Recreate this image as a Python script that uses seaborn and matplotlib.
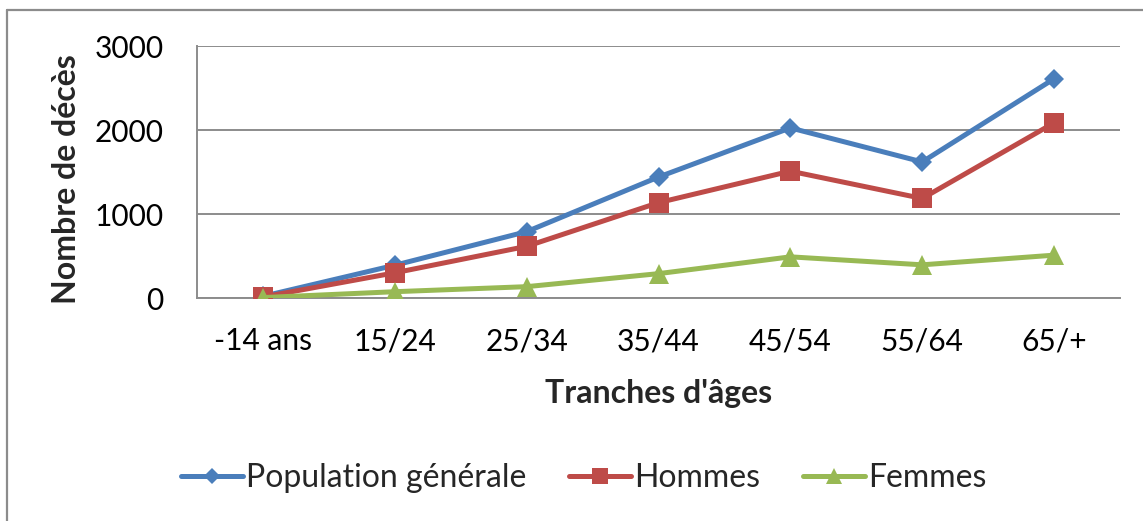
import pandas as pd
import seaborn as sns
import matplotlib.pyplot as plt
from matplotlib.lines import Line2D

# data
tranches = ['-14 ans', '15/24', '25/34', '35/44', '45/54', '55/64', '65/+']
population = [20, 390, 790, 1440, 2025, 1620, 2610]
hommes = [12, 300, 615, 1135, 1510, 1185, 2085]
femmes = [5, 75, 135, 290, 490, 395, 510]

series = ['Population générale', 'Hommes', 'Femmes']
colors = ['#4A7EBB', '#BE4B48', '#98B954']
markers = ['D', 's', '^']
msizes = [10, 14, 14]

df = pd.DataFrame({'tranche': tranches,
                   'Population générale': population,
                   'Hommes': hommes,
                   'Femmes': femmes})
long_df = df.melt(id_vars='tranche', var_name='serie', value_name='deces')

sns.set_style('white')
plt.rcParams['font.family'] = ['Lato', 'DejaVu Sans']

fig = plt.figure(figsize=(11.43, 5.21), dpi=100)
ax = fig.add_axes([197 / 1143, 1 - 298 / 521, 923 / 1143, 252 / 521])

for name, col, mk, ms in zip(series, colors, markers, msizes):
    sub = long_df[long_df['serie'] == name]
    sns.lineplot(data=sub, x='tranche', y='deces', ax=ax, color=col,
                 marker=mk, markersize=ms, markeredgewidth=0, linewidth=3.6,
                 sort=False, legend=False, zorder=3)

ax.set_xlim(-0.5, len(tranches) - 0.5)
ax.set_ylim(0, 3000)
ax.set_yticks([0, 1000, 2000, 3000])
ax.yaxis.grid(True, color='#8C8C8C', linewidth=1.4)
ax.set_axisbelow(True)
for side in ['top', 'right']:
    ax.spines[side].set_visible(False)
for side in ['left', 'bottom']:
    ax.spines[side].set_color('#8C8C8C')
    ax.spines[side].set_linewidth(1.4)
ax.tick_params(axis='both', length=0, labelsize=21.5, colors='black')
ax.tick_params(axis='y', pad=24)
ax.tick_params(axis='x', pad=21)

ax.set_xlabel("Tranches d'âges", fontsize=23, fontweight='bold')
ax.xaxis.set_label_coords(0.5, -0.32)
ax.set_ylabel('Nombre de décès', fontsize=23, fontweight='bold')
ax.yaxis.set_label_coords(-0.126, 0.47)

handles = [Line2D([], [], color=c, marker=m, markersize=s * 0.85, markeredgewidth=0,
                  linewidth=3.6) for c, m, s in zip(colors, markers, msizes)]
fig.legend(handles, series, loc='center', bbox_to_anchor=(0.5105, 0.0825), ncol=3,
           frameon=False, fontsize=23, handlelength=1.95, handletextpad=0.08,
           columnspacing=1.35)

# outer chart frame (only top and left edges visible in the reference)
fig.add_artist(Line2D([7 / 1143, 7 / 1143], [0, 1 - 10 / 521], color='#8C8C8C',
                      linewidth=1.6, transform=fig.transFigure))
fig.add_artist(Line2D([7 / 1143, 1], [1 - 10 / 521, 1 - 10 / 521], color='#8C8C8C',
                      linewidth=1.6, transform=fig.transFigure))

fig.savefig('out.png', dpi=100)
